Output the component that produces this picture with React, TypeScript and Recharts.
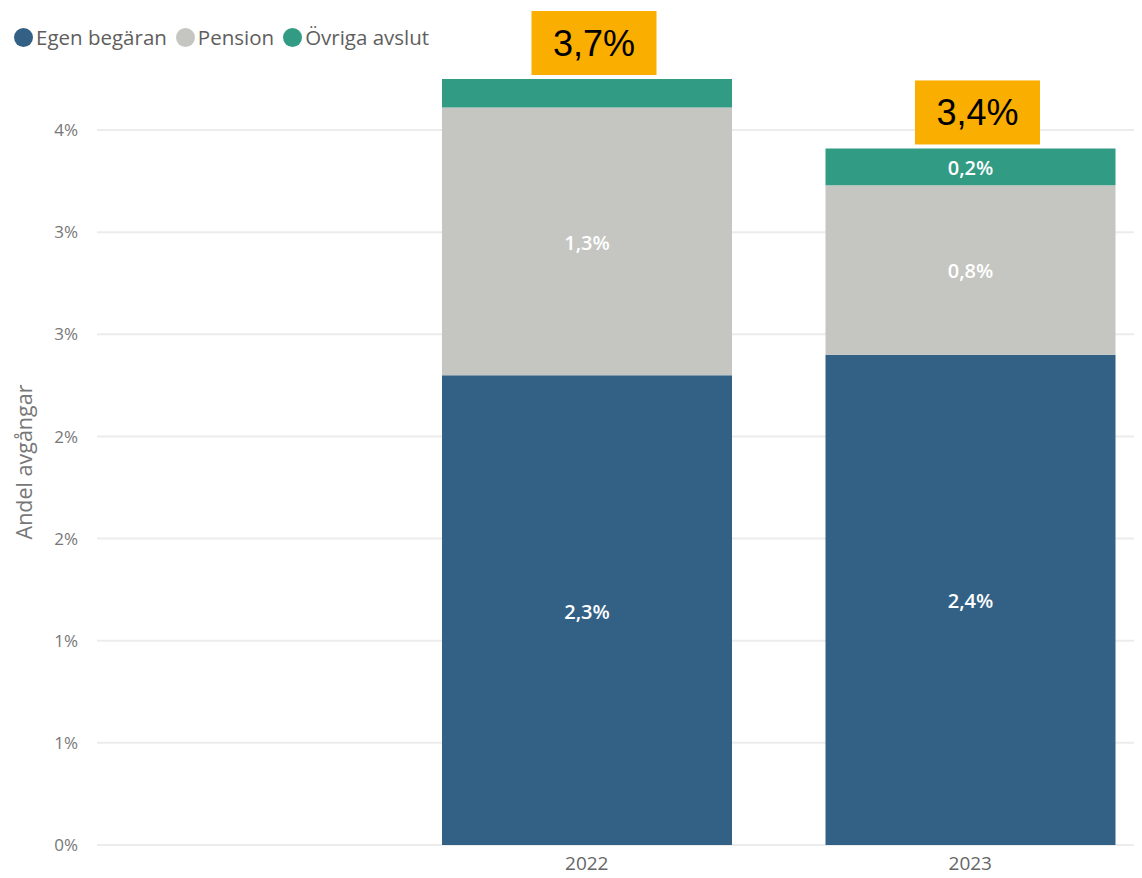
import React from "react";
import { BarChart, Bar, XAxis, YAxis, CartesianGrid, LabelList, Label } from "recharts";

const years = ["2022", "2023"];
const egenBegaran = [2.3, 2.4];
const pension = [1.31, 0.83];
const ovrigaAvslut = [0.14, 0.18];
const totalLabels = ["3,7%", "3,4%"];
const yTicks = [0, 0.5, 1, 1.5, 2, 2.5, 3, 3.5];

const SERIES = [
  { key: "egen", name: "Egen begäran", color: "#336186" },
  { key: "pension", name: "Pension", color: "#C5C6C1" },
  { key: "ovriga", name: "Övriga avslut", color: "#319B83" },
];

const FONT = "'Open Sans', 'Noto Sans', sans-serif";

const data = years.map((year, i) => ({
  year,
  egen: egenBegaran[i],
  pension: pension[i],
  ovriga: ovrigaAvslut[i],
  total: totalLabels[i],
}));

const fmt = (v: number) => `${v.toFixed(1).replace(".", ",")}%`;

function InBarLabel(props: any) {
  const { x, y, width, height, value } = props;
  const h = Math.abs(height);
  if (h < 32) return null;
  return (
    <text
      x={x + width / 2}
      y={y + height / 2 + 1}
      textAnchor="middle"
      dominantBaseline="central"
      fill="#ffffff"
      fontSize={20}
      fontWeight={600}
      fontFamily={FONT}
    >
      {fmt(value)}
    </text>
  );
}

function TotalBox(props: any) {
  const { x, y, width, index } = props;
  const w = 125;
  const h = 64;
  const cx = x + width / 2 + 7;
  const bottom = y - 4;
  return (
    <g>
      <rect x={cx - w / 2} y={bottom - h} width={w} height={h} fill="#F9AE00" />
      <text
        x={cx}
        y={bottom - h / 2}
        textAnchor="middle"
        dominantBaseline="central"
        fill="#000000"
        fontSize={36}
        fontFamily="'Liberation Sans', Arial, sans-serif"
      >
        {totalLabels[index]}
      </text>
    </g>
  );
}

export default function App() {
  return (
    <div style={{ position: "relative", width: 1142, height: 878, overflow: "hidden", margin: -8, background: "#fff" }}>
      <div
        style={{
          position: "absolute",
          left: 14,
          top: 23,
          display: "flex",
          alignItems: "center",
          fontFamily: FONT,
          fontSize: 20.5,
          color: "#605E5C",
          zIndex: 2,
        }}
      >
        {SERIES.map((s) => (
          <span key={s.key} style={{ display: "flex", alignItems: "center", marginRight: 9 }}>
            <span
              style={{
                width: 19,
                height: 19,
                borderRadius: "50%",
                background: s.color,
                display: "inline-block",
                marginRight: 3,
              }}
            />
            {s.name}
          </span>
        ))}
      </div>
      <BarChart
        width={1180}
        height={878}
        data={data}
        margin={{ top: 79, right: 18, bottom: 0, left: 0 }}
        barSize={290}
      >
        <CartesianGrid vertical={false} stroke="#ECECEC" strokeWidth={2} horizontalValues={yTicks} />
        <XAxis
          dataKey="year"
          axisLine={false}
          tickLine={false}
          height={33}
          padding={{ left: 298, right: 0 }}
          tick={{ fill: "#666666", fontSize: 19, fontFamily: FONT }}
          tickSize={0}
          tickMargin={12}
        />
        <YAxis
          width={97}
          domain={[0, 3.75]}
          ticks={yTicks}
          allowDataOverflow
          axisLine={false}
          tickLine={false}
          tickSize={0}
          tickMargin={19}
          tickFormatter={(v: number) => `${Math.round(v)}%`}
          tick={{ fill: "#777777", fontSize: 17, fontFamily: FONT }}
        >
          <Label
            content={({ viewBox }: any) => {
              const cy = viewBox.y + viewBox.height / 2;
              return (
                <text
                  x={23}
                  y={cy}
                  transform={`rotate(-90, 23, ${cy})`}
                  textAnchor="middle"
                  dominantBaseline="central"
                  fill="#777777"
                  fontSize={21.5}
                  fontFamily={FONT}
                >
                  Andel avgångar
                </text>
              );
            }}
          />
        </YAxis>
        {SERIES.map((s) => (
          <Bar key={s.key} dataKey={s.key} name={s.name} stackId="a" fill={s.color} isAnimationActive={false}>
            <LabelList dataKey={s.key} content={InBarLabel} />
            {s.key === "ovriga" && <LabelList dataKey="total" content={TotalBox} />}
          </Bar>
        ))}
      </BarChart>
    </div>
  );
}
